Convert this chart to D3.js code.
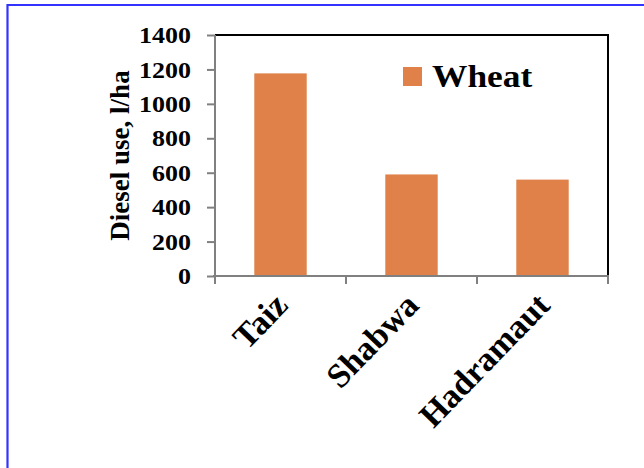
<!DOCTYPE html>
<html>
<head>
<meta charset="utf-8">
<script src="https://cdn.jsdelivr.net/npm/d3@7"></script>
<style>
  html, body { margin: 0; padding: 0; background: #fff; }
  svg { display: block; }
  text { font-family: "Liberation Serif", "Times New Roman", serif; font-weight: bold; fill: #000; }
</style>
</head>
<body>
<svg id="chart" width="644" height="468"></svg>
<script>
// Diesel use for wheat by governorate
const categories = ["Taiz", "Shabwa", "Hadramaut"];
const wheatValues = [1177, 590, 560];
const yTicks = [0, 200, 400, 600, 800, 1000, 1200, 1400];
const seriesName = "Wheat";
const yTitle = "Diesel use, l/ha";

const svg = d3.select("#chart");
const W = 644, H = 468;
const plot = { left: 215, top: 35, right: 608, bottom: 276 };
const barColor = "#DF8149";
const stretch = 1.18;

// outer frame (open on the right and bottom)
svg.append("path")
  .attr("d", `M7.5,${H + 2} L7.5,5 L${W + 2},5`)
  .attr("fill", "none")
  .attr("stroke", "#3333ff")
  .attr("stroke-width", 2.2);

const x = d3.scaleBand().domain(categories).range([plot.left, plot.right]).paddingInner(0.6).paddingOuter(0.3);
const y = d3.scaleLinear().domain([0, 1400]).range([plot.bottom, plot.top]);

// plot frame: top and right in black
svg.append("path")
  .attr("d", `M${plot.left},${plot.top} L${plot.right},${plot.top} L${plot.right},${plot.bottom}`)
  .attr("fill", "none").attr("stroke", "#000").attr("stroke-width", 2);

// bars
svg.append("g").selectAll("rect")
  .data(categories.map((c, i) => ({ c, v: wheatValues[i] })))
  .join("rect")
  .attr("x", d => x(d.c))
  .attr("width", x.bandwidth())
  .attr("y", d => y(d.v))
  .attr("height", d => y(0) - y(d.v))
  .attr("fill", barColor);

// y axis
const yAxis = svg.append("g")
  .attr("transform", `translate(${plot.left},0)`)
  .call(d3.axisLeft(y).tickValues(yTicks).tickSize(8).tickPadding(0).tickFormat(d3.format("d")));
yAxis.select(".domain").attr("stroke", "#808080").attr("stroke-width", 2).attr("d", `M0,${plot.top}V${plot.bottom}`);
yAxis.selectAll(".tick line").attr("stroke", "#808080").attr("stroke-width", 2);
yAxis.selectAll(".tick text")
  .attr("x", null)
  .attr("transform", `translate(-24,0) scale(${stretch},1.05)`)
  .attr("dy", "0.33em")
  .style("font-size", "22px")
  .style("font-family", "'Liberation Serif', serif")
  .style("font-weight", "bold");

// x axis with boundary ticks
const xAxisG = svg.append("g");
xAxisG.append("line")
  .attr("x1", plot.left - 2).attr("x2", plot.right + 1)
  .attr("y1", plot.bottom).attr("y2", plot.bottom)
  .attr("stroke", "#808080").attr("stroke-width", 2);
const boundaries = d3.range(categories.length + 1).map(i => plot.left + i * (plot.right - plot.left) / categories.length);
xAxisG.selectAll("line.tk").data(boundaries).join("line")
  .attr("class", "tk")
  .attr("x1", d => d).attr("x2", d => d)
  .attr("y1", plot.bottom).attr("y2", plot.bottom + 8)
  .attr("stroke", "#808080").attr("stroke-width", 2);

// category labels rotated 45 degrees
xAxisG.selectAll("text.cat").data(categories).join("text")
  .attr("class", "cat")
  .attr("text-anchor", "end")
  .attr("transform", d => `translate(${x(d) + x.bandwidth() / 2 + 9},${plot.bottom + 31}) rotate(-46)`)
  .style("font-size", "34px")
  .text(d => d);

// y axis title
svg.append("text")
  .attr("text-anchor", "middle")
  .attr("transform", `translate(129,${(plot.top + plot.bottom) / 2}) rotate(-90)`)
  .style("font-size", "27px")
  .text(yTitle);

// legend
const lg = svg.append("g").attr("transform", "translate(403,67)");
lg.append("rect").attr("width", 19).attr("height", 19).attr("fill", barColor);
lg.append("text")
  .attr("transform", `translate(29,20) scale(${stretch},1.05)`)
  .style("font-size", "30px")
  .text(seriesName);
</script>
</body>
</html>
